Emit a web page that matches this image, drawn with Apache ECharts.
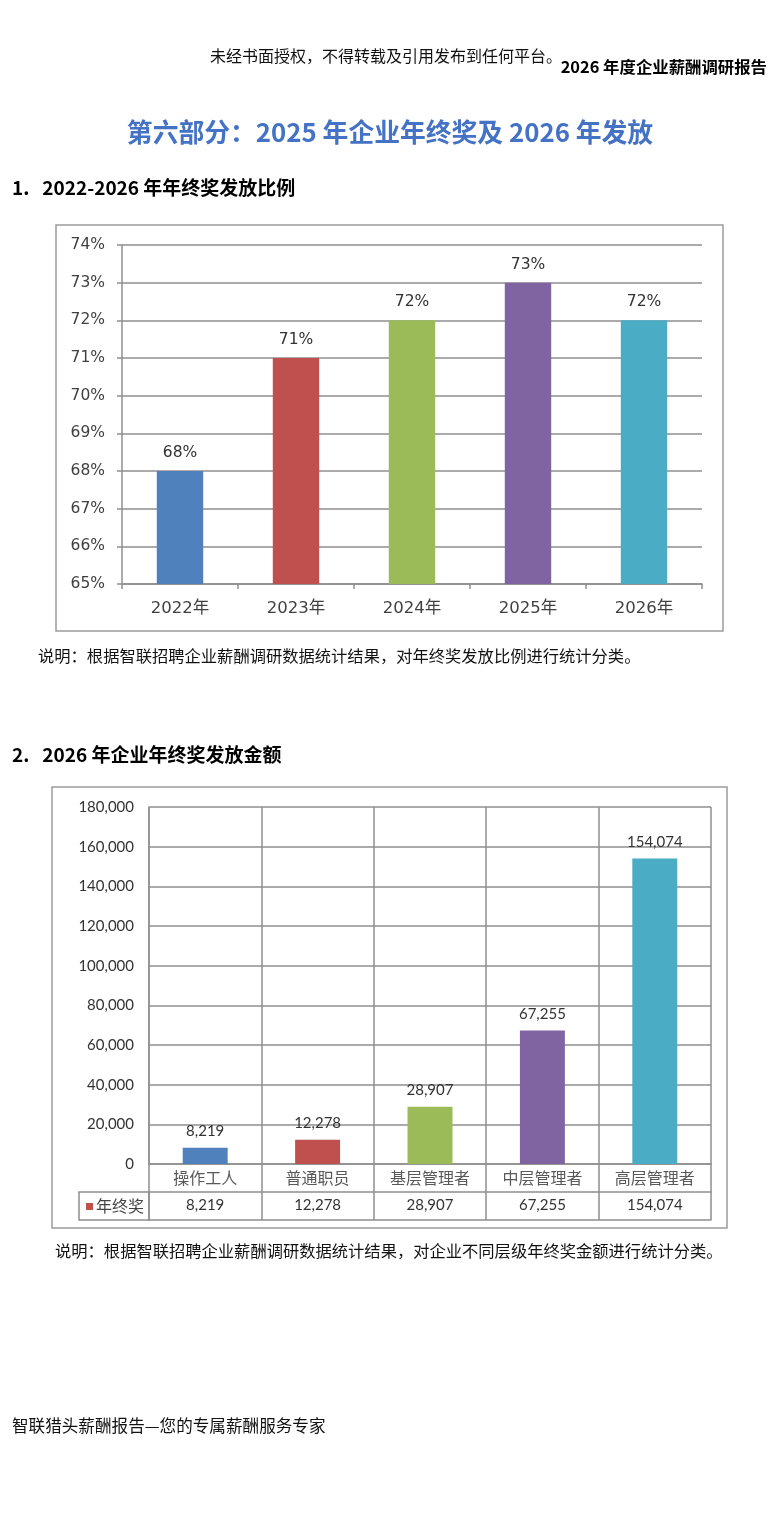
<!DOCTYPE html>
<html lang="zh-CN">
<head>
  <meta charset="utf-8" />
  <title>2025 年企业年终奖及 2026 年发放</title>
  <script src="https://cdn.jsdelivr.net/npm/echarts@6/dist/echarts.min.js"></script>
  <style>
    html, body { margin: 0; padding: 0; background: #fff; }
    #page { width: 784px; height: 1526px; }
  </style>
</head>
<body>
<div id="page"></div>
<script>
  // 图一：2022-2026 年年终奖发放比例
  const years = ['2022年', '2023年', '2024年', '2025年', '2026年'];
  const payoutRates = [68, 71, 72, 73, 72];

  // 图二：2026 年企业年终奖发放金额
  const levels = ['操作工人', '普通职员', '基层管理者', '中层管理者', '高层管理者'];
  const bonusAmounts = [8219, 12278, 28907, 67255, 154074];
  const seriesName = '年终奖';

  const colors = ['#4F81BD', '#C0504D', '#9BBB59', '#8064A2', '#4BACC6'];
  const gridGray = '#8f8f8f';
  const cjk = '"Noto Sans CJK SC", sans-serif';
  const fmt = v => v.toLocaleString('en-US');

  const chart = echarts.init(document.getElementById('page'));

  const txt = (text, x, y, font, fill, align) => ({
    type: 'text', x: x, y: y, silent: true,
    style: { text: text, font: font, fill: fill || '#000', align: align || 'left', verticalAlign: 'middle' }
  });

  chart.setOption({
    animation: false,
    backgroundColor: '#fff',
    graphic: [
      txt('未经书面授权，不得转载及引用发布到任何平台。', 210, 56, '16px ' + cjk, '#111'),
      txt('2026 年度企业薪酬调研报告', 767, 67, 'bold 16.4px ' + cjk, '#000', 'right'),
      txt('第六部分：2025 年企业年终奖及 2026 年发放', 390, 132, 'bold 25.8px ' + cjk, '#4472C4', 'center'),
      txt('1.   2022-2026 年年终奖发放比例', 12, 188, 'bold 19px ' + cjk, '#000'),
      txt('说明：根据智联招聘企业薪酬调研数据统计结果，对年终奖发放比例进行统计分类。', 38, 656, '16.3px ' + cjk, '#111'),
      txt('2.   2026 年企业年终奖发放金额', 12, 755, 'bold 19px ' + cjk, '#000'),
      txt('说明：根据智联招聘企业薪酬调研数据统计结果，对企业不同层级年终奖金额进行统计分类。', 55, 1251, '16.3px ' + cjk, '#111'),
      txt('智联猎头薪酬报告—您的专属薪酬服务专家', 12, 1426, '16.6px ' + cjk, '#111'),
      // chart frames
      { type: 'rect', silent: true, shape: { x: 56, y: 225, width: 667, height: 406 },
        style: { fill: 'none', stroke: '#9c9c9c', lineWidth: 1.5 } },
      { type: 'rect', silent: true, shape: { x: 52, y: 787, width: 675, height: 441 },
        style: { fill: 'none', stroke: '#9c9c9c', lineWidth: 1.5 } },
      // data-table legend cell
      { type: 'rect', silent: true, shape: { x: 79, y: 1192, width: 70, height: 28 },
        style: { fill: 'none', stroke: gridGray, lineWidth: 1.5 } },
      { type: 'rect', silent: true, shape: { x: 86, y: 1203, width: 7, height: 7 },
        style: { fill: colors[1] } },
      txt(seriesName, 96, 1206, '16px ' + cjk, '#444')
    ],
    grid: [
      { left: 122, top: 245, width: 580, height: 339 },
      { left: 149, top: 807, width: 562, height: 357 }
    ],
    xAxis: [
      {
        type: 'category', gridIndex: 0, data: years,
        axisLine: { show: true, lineStyle: { color: gridGray, width: 1.5 } },
        axisTick: { show: true, length: 5, lineStyle: { color: gridGray, width: 1.5 } },
        axisLabel: { margin: 16, fontSize: 16.5, color: '#404040', fontFamily: '"DejaVu Sans", ' + cjk },
        splitLine: { show: false }
      },
      {
        type: 'category', gridIndex: 1, data: levels, position: 'bottom',
        axisLine: { show: true, lineStyle: { color: gridGray, width: 1.5 } },
        axisTick: { show: true, length: 56, lineStyle: { color: gridGray, width: 1.5 } },
        axisLabel: { margin: 6, fontSize: 16, color: '#595959', fontFamily: cjk },
        splitLine: { show: true, interval: 0, lineStyle: { color: gridGray, width: 1.5 } }
      },
      {
        type: 'category', gridIndex: 1, data: bonusAmounts.map(fmt), position: 'bottom', offset: 28,
        axisLine: { show: true, lineStyle: { color: gridGray, width: 1.5 } },
        axisTick: { show: false },
        axisLabel: { margin: 6, fontSize: 15, color: '#333', fontFamily: 'Lato' },
        splitLine: { show: false }
      },
      {
        type: 'category', gridIndex: 1, data: levels, position: 'bottom', offset: 56,
        axisLine: { show: true, lineStyle: { color: gridGray, width: 1.5 } },
        axisTick: { show: false },
        axisLabel: { show: false },
        splitLine: { show: false }
      }
    ],
    yAxis: [
      {
        type: 'value', gridIndex: 0, min: 65, max: 74, interval: 1,
        axisLine: { show: true, lineStyle: { color: gridGray, width: 1.5 } },
        axisTick: { show: true, length: 5, lineStyle: { color: gridGray, width: 1.5 } },
        axisLabel: { formatter: '{value}%', margin: 17, fontSize: 15.5, color: '#404040', fontFamily: 'DejaVu Sans' },
        splitLine: { show: true, lineStyle: { color: gridGray, width: 1.5 } }
      },
      {
        type: 'value', gridIndex: 1, min: 0, max: 180000, interval: 20000,
        axisLine: { show: true, lineStyle: { color: gridGray, width: 1.5 } },
        axisTick: { show: false },
        axisLabel: { formatter: v => fmt(v), margin: 15, fontSize: 15, color: '#333', fontFamily: 'Lato' },
        splitLine: { show: true, lineStyle: { color: gridGray, width: 1.5 } }
      }
    ],
    series: [
      {
        type: 'bar', xAxisIndex: 0, yAxisIndex: 0, barWidth: '40%',
        data: payoutRates.map((v, i) => ({ value: v, itemStyle: { color: colors[i] } })),
        label: { show: true, position: 'top', distance: 10, formatter: '{c}%', fontSize: 15.5,
                 color: '#333', fontFamily: 'DejaVu Sans' }
      },
      {
        type: 'bar', name: seriesName, xAxisIndex: 1, yAxisIndex: 1, barWidth: '40%',
        data: bonusAmounts.map((v, i) => ({ value: v, itemStyle: { color: colors[i] } })),
        label: { show: true, position: 'top', distance: 9, formatter: p => fmt(p.value), fontSize: 15,
                 color: '#333', fontFamily: 'Lato' }
      }
    ]
  });

  window.addEventListener('resize', () => chart.resize());
</script>
</body>
</html>
